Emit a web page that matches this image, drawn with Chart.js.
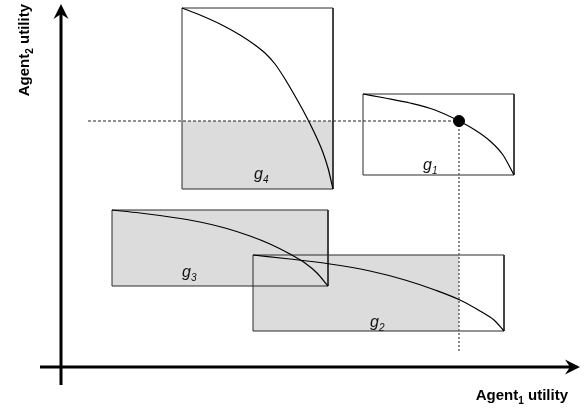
<!DOCTYPE html>
<html>
<head>
<meta charset="utf-8">
<script src="https://cdn.jsdelivr.net/npm/chart.js@4/dist/chart.umd.min.js"></script>
<style>
html,body{margin:0;padding:0;background:#fff;}
#wrap{width:587px;height:409px;}
</style>
</head>
<body>
<div id="wrap"><canvas id="c" width="587" height="409"></canvas></div>
<script>
// ---- data (utility units, origin at the axes crossing) ----
const gameNames = ['1', '2', '3', '4'];
const boxLeft   = [301, 191,  50, 120];
const boxRight  = [452, 442, 266, 271];
const boxTop    = [274, 113, 158, 360];
const boxBottom = [193,  37,  82, 179];
const boxShaded = [false, true, true, true];

const frontierG1U = [301, 323, 348, 373, 397, 413, 428, 441, 452];
const frontierG1V = [274, 270, 265, 258, 247, 238, 227, 213, 193];
const frontierG2U = [191, 228, 268, 308, 343, 373, 398, 418, 432, 442];
const frontierG2V = [113, 109, 104,  97,  88,  78,  68,  57,  48,  37];
const frontierG3U = [ 50,  78, 108, 138, 163, 188, 208, 228, 243, 255, 266];
const frontierG3V = [158, 155, 151, 146, 140, 132, 124, 114, 105,  95,  82];
const frontierG4U = [120, 138, 158, 178, 193, 203, 213, 223, 233, 243, 253, 260, 266, 271];
const frontierG4V = [360, 353, 344, 333, 323, 315, 304, 289, 272, 254, 234, 218, 200, 179];

const agreementU = 397;
const agreementV = 247;
const dashStartU = 26;
const dottedEndV = 16;

const labelU = [361, 308, 120, 192];
const labelV = [198,  41,  91, 189];

const axisXFrom = -22, axisXTo = 518;
const axisYFrom = -17, axisYTo = 364;

// ---- build datasets ----
const pts = (us, vs) => us.map((u, i) => ({x: u, y: vs[i]}));
const FILL = '#dcdcdc';
const datasets = [];

// shaded regions (below / left of agreement point, inside each game box)
gameNames.forEach((g, i) => {
  if (!boxShaded[i]) return;
  const l = boxLeft[i], r = Math.min(boxRight[i], agreementU);
  const t = Math.min(boxTop[i], agreementV), b = boxBottom[i];
  datasets.push({data: [{x: l, y: t}, {x: r, y: t}], fill: {value: b},
    backgroundColor: FILL, borderWidth: 0, pointRadius: 0, order: 10});
});
// box outlines
gameNames.forEach((g, i) => {
  datasets.push({data: [
      {x: boxLeft[i], y: boxTop[i]}, {x: boxRight[i], y: boxTop[i]},
      {x: boxRight[i], y: boxBottom[i]}, {x: boxLeft[i], y: boxBottom[i]},
      {x: boxLeft[i], y: boxTop[i]}],
    borderColor: '#2a2a2a', borderWidth: 1, pointRadius: 0, fill: false, tension: 0, order: 6});
});
// Pareto frontiers
[[frontierG1U, frontierG1V], [frontierG2U, frontierG2V], [frontierG3U, frontierG3V], [frontierG4U, frontierG4V]]
  .forEach(([u, v]) => {
    datasets.push({data: pts(u, v), borderColor: '#000', borderWidth: 1.2, pointRadius: 0,
      fill: false, cubicInterpolationMode: 'monotone', order: 5});
  });
// dashed guides
datasets.push({data: [{x: dashStartU, y: agreementV}, {x: agreementU, y: agreementV}],
  borderColor: '#222', borderWidth: 1, borderDash: [3, 2], pointRadius: 0, fill: false, order: 4});
datasets.push({data: [{x: agreementU, y: agreementV}, {x: agreementU, y: dottedEndV}],
  borderColor: '#666', borderWidth: 1.5, borderDash: [2, 2], pointRadius: 0, fill: false, order: 4});
// axes
datasets.push({data: [{x: axisXFrom, y: 1}, {x: axisXTo - 6, y: 1}], borderColor: '#000', borderWidth: 3,
  pointRadius: 0, fill: false, order: 3});
datasets.push({data: [{x: -1, y: axisYFrom}, {x: -1, y: axisYTo - 6}], borderColor: '#000', borderWidth: 3,
  pointRadius: 0, fill: false, order: 3});
// agreement point
datasets.push({data: [{x: agreementU, y: agreementV}], showLine: false, pointRadius: 5.5,
  pointBackgroundColor: '#000', pointBorderColor: '#000', order: 1});

// ---- plugin: arrowheads, labels, axis titles ----
const FONT = '"Liberation Sans", Arial, sans-serif';
const decor = {
  id: 'decor',
  afterDatasetsDraw(chart) {
    const ctx = chart.ctx, xs = chart.scales.x, ys = chart.scales.y;
    ctx.save();
    ctx.fillStyle = '#000';
    const arrow = (tx, ty, dx, dy) => {
      const L = 15, W = 7.5, N = 10;
      const px = -dy, py = dx;
      ctx.beginPath();
      ctx.moveTo(tx, ty);
      ctx.lineTo(tx - dx * L + px * W, ty - dy * L + py * W);
      ctx.lineTo(tx - dx * N, ty - dy * N);
      ctx.lineTo(tx - dx * L - px * W, ty - dy * L - py * W);
      ctx.closePath();
      ctx.fill();
    };
    arrow(xs.getPixelForValue(axisXTo), ys.getPixelForValue(1), 1, 0);
    arrow(xs.getPixelForValue(-1), ys.getPixelForValue(axisYTo), 0, -1);

    // game labels g_i
    ctx.fillStyle = '#111';
    ctx.textBaseline = 'alphabetic';
    ctx.textAlign = 'left';
    gameNames.forEach((g, i) => {
      const x = xs.getPixelForValue(labelU[i]), y = ys.getPixelForValue(labelV[i]);
      ctx.font = 'italic 16px ' + FONT;
      ctx.fillText('g', x, y);
      const w = ctx.measureText('g').width;
      ctx.font = 'italic 10px ' + FONT;
      ctx.fillText(g, x + w, y + 4);
    });

    // axis titles
    const title = (main, sub, rest) => {
      const big = 'bold 15px ' + FONT, small = 'bold 10px ' + FONT;
      ctx.font = big; const w1 = ctx.measureText(main).width;
      ctx.font = small; const w2 = ctx.measureText(sub).width;
      ctx.font = big; const w3 = ctx.measureText(rest).width;
      return {w: w1 + w2 + w3, draw(x, y) {
        ctx.font = big; ctx.fillText(main, x, y);
        ctx.font = small; ctx.fillText(sub, x + w1, y + 3.5);
        ctx.font = big; ctx.fillText(rest, x + w1 + w2, y);
      }};
    };
    ctx.fillStyle = '#000';
    const tx = title('Agent', '1', ' utility');
    tx.draw(568 - tx.w, 400);
    const ty = title('Agent', '2', ' utility');
    ctx.translate(29, 4 + ty.w);
    ctx.rotate(-Math.PI / 2);
    ty.draw(0, 0);
    ctx.restore();
  }
};

new Chart(document.getElementById('c'), {
  type: 'line',
  data: {datasets},
  options: {
    responsive: false,
    animation: false,
    layout: {padding: 0, autoPadding: false},
    plugins: {legend: {display: false}, tooltip: {enabled: false}},
    scales: {
      x: {type: 'linear', min: -62, max: 525, display: false},
      y: {type: 'linear', min: -41, max: 368, display: false}
    }
  },
  plugins: [decor]
});
</script>
</body>
</html>
